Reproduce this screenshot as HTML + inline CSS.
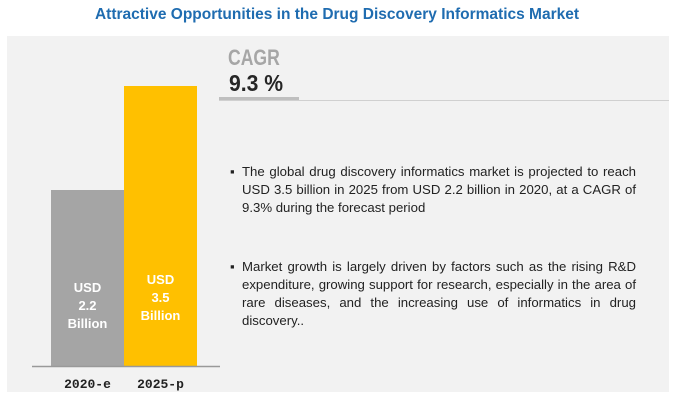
<!DOCTYPE html>
<html><head><meta charset="utf-8"><style>
body{margin:0;width:674px;height:400px;background:#fff;font-family:"Liberation Sans",sans-serif;position:relative;overflow:hidden}
.abs{position:absolute}
#title{left:0;width:674px;top:6px;text-align:center;color:#1f6cb0;font-weight:bold;font-size:15.5px}
#panel{left:7px;top:36px;width:662px;height:356px;background:#f2f2f2}
.bul{left:230px;width:406px;font-size:13.2px;line-height:18px;color:#222;text-align:justify}
.bul span.b{position:absolute;left:0;top:0}
.bul div{margin-left:12px}
</style></head><body>
<div id="title" class="abs">Attractive Opportunities in the Drug Discovery Informatics Market</div>
<div id="panel" class="abs"></div>
<div class="abs" style="left:228px;top:45px;font-size:22px;font-weight:bold;color:#a6a6a6;transform:scaleX(0.8);transform-origin:left">CAGR</div>
<div class="abs" style="left:229px;top:70px;font-size:23px;font-weight:bold;color:#262626;transform:scaleX(0.92);transform-origin:left">9.3 %</div>
<div class="abs" style="left:219px;top:97px;width:80px;height:4px;background:#bfbfbf"></div>
<div class="abs" style="left:219px;top:100px;width:450px;height:1px;background:#d0d0d0"></div>
<svg class="abs" style="left:0;top:0" width="674" height="400">
<g id="bars"></g>
</svg>
<div class="abs bul" style="top:163px"><span class="b">▪</span><div>The global drug discovery informatics market is projected to reach USD 3.5 billion in 2025 from USD 2.2 billion in 2020, at a CAGR of 9.3% during the forecast period</div></div>
<div class="abs bul" style="top:258px"><span class="b">▪</span><div>Market growth is largely driven by factors such as the rising R&amp;D expenditure, growing support for research, especially in the area of rare diseases, and the increasing use of informatics in drug discovery..</div></div>
<script>
const categories=["2020-e","2025-p"];
const values=[2.2,3.5];
const colors=["#a5a5a5","#ffc000"];
const baseY=366,scale=80,x0=51,bw=73;
const y=v=>baseY-v*scale;
const ns="http://www.w3.org/2000/svg";
const g=document.getElementById('bars');
function mk(t,a){const e=document.createElementNS(ns,t);for(const k in a)e.setAttribute(k,a[k]);return e;}
values.forEach((v,i)=>{
 const x=x0+i*bw;
 const r=mk('rect',{x:x,y:y(v),width:bw,height:baseY-y(v),fill:colors[i]});
 
 
 g.appendChild(r);
 const midY=baseY-(i==0?56:64);
 ["USD",v.toFixed(1),"Billion"].forEach((s,j)=>{
  const t=mk('text',{x:x+bw/2,y:midY-18+j*18,'text-anchor':'middle','font-size':'13','font-weight':'bold',fill:'#fff','font-family':'Liberation Sans, sans-serif'});
  t.textContent=s;
  
  
  g.appendChild(t);
 });
 const l=mk('text',{x:x+bw/2,y:388,'text-anchor':'middle','font-size':'13','font-weight':'bold',fill:'#222','font-family':'Liberation Mono, monospace'});
 l.textContent=categories[i];
 
 
 g.appendChild(l);
});
const ax=mk('line',{x1:32,x2:220,y1:baseY+0.5,y2:baseY+0.5,stroke:'#999','stroke-width':1.5});


g.appendChild(ax);
</script>
</body></html>
